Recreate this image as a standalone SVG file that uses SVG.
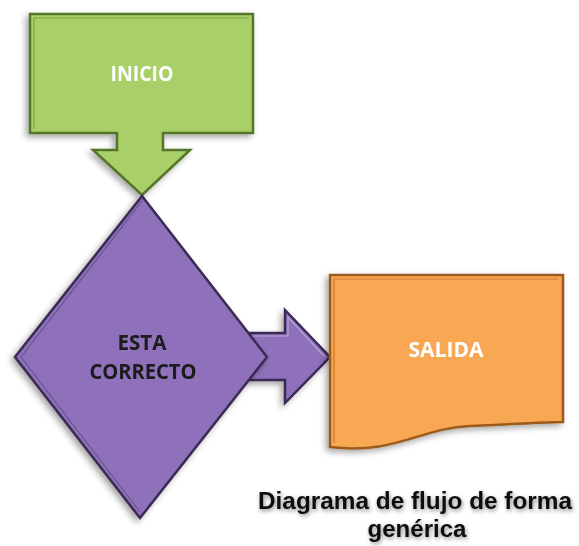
<svg xmlns="http://www.w3.org/2000/svg" width="579" height="546" viewBox="0 0 579 546">
  <defs>
    <filter id="shadow" x="-20%" y="-20%" width="140%" height="140%">
      <feDropShadow dx="-3" dy="3" stdDeviation="3" flood-color="#000" flood-opacity="0.35"/>
    </filter>
    <filter id="tshadow" x="-10%" y="-30%" width="120%" height="160%">
      <feDropShadow dx="1" dy="2" stdDeviation="2" flood-color="#000" flood-opacity="0.45"/>
    </filter>
    <style>
      .lbl { font-family: "Open Sans", "Liberation Sans", Arial, sans-serif; font-weight: bold; text-anchor: middle; }
      .white { fill: #ffffff; font-size: 21px; }
      .dark { fill: #1a1a1a; font-size: 21px; }
      .cap { font-family: "Liberation Sans", Arial, sans-serif; fill: #111111; font-size: 24px; }
      .green { fill: #a8cf68; stroke: #55762a; stroke-width: 2.5; stroke-linejoin: miter; }
      .purple { fill: #8f70ba; stroke: #3a2b52; stroke-width: 2.5; stroke-linejoin: miter; }
      .orange { fill: #f8a752; stroke: #9c5a1c; stroke-width: 2.5; stroke-linejoin: miter; }
      .bevel { fill: none; stroke-width: 1.2; }
    </style>
  </defs>
  <rect width="579" height="546" fill="#ffffff"/>

  <g id="connectors">
    <g id="arrow-decision-salida" filter="url(#shadow)">
      <path class="purple" d="M250,333 H285 V310 L330,357 L285,403 V380 H250 Z"/>
      <path class="bevel" stroke="#b9a3d8" d="M253,336 H288 V317 L325,357"/>
    </g>
  </g>

  <g id="node-inicio" filter="url(#shadow)">
    <path class="green" d="M30,14 H253 V133 H163 V150 H190 L142,195 L93,150 H117 V133 H30 Z"/>
    <path class="bevel" stroke="#7fa043" d="M34,129 V18 H249"/>
    <text class="lbl white" x="142" y="81" textLength="63" lengthAdjust="spacingAndGlyphs">INICIO</text>
  </g>

  <g id="node-decision" filter="url(#shadow)">
    <path class="purple" d="M142,196 L267,357 L140,518 L15,357 Z"/>
    <path class="bevel" stroke="#6a5290" d="M142,201 L21,357 L140,512"/>
    <text class="lbl dark" x="142" y="350" textLength="49" lengthAdjust="spacingAndGlyphs">ESTA</text>
    <text class="lbl dark" x="143" y="379" textLength="107" lengthAdjust="spacingAndGlyphs">CORRECTO</text>
  </g>

  <g id="node-salida" filter="url(#shadow)">
    <path class="orange" d="M330,275 H563 V422 C545,422 520,424 470,426 C420,428 395,455 330,447 Z"/>
    <path class="bevel" stroke="#c77a2e" d="M334,443 V279 H559"/>
    <text class="lbl white" x="446" y="357" textLength="75" lengthAdjust="spacingAndGlyphs">SALIDA</text>
  </g>

  <g id="caption" filter="url(#tshadow)">
    <text class="lbl cap" x="415" y="509" textLength="314" lengthAdjust="spacingAndGlyphs">Diagrama de flujo de forma</text>
    <text class="lbl cap" x="417" y="537" textLength="99" lengthAdjust="spacingAndGlyphs">genérica</text>
  </g>
</svg>
